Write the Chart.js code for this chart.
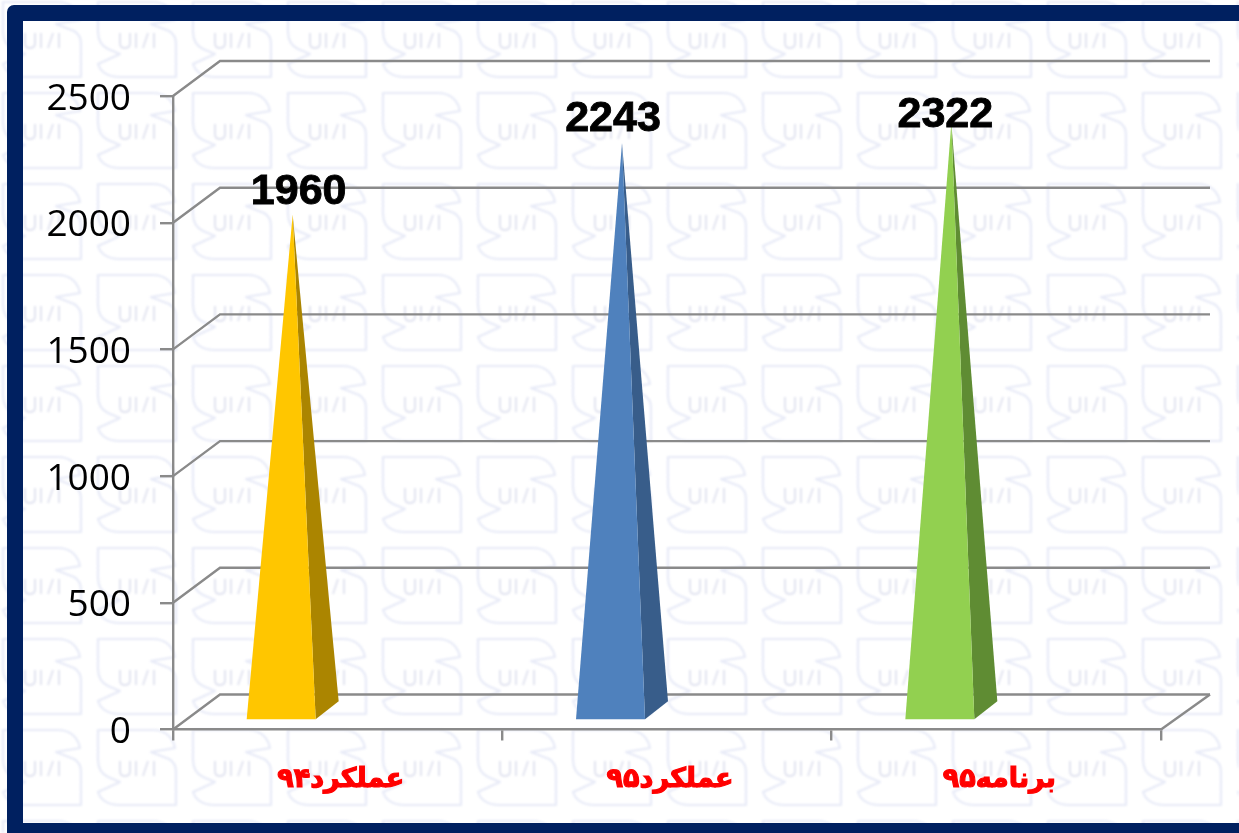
<!DOCTYPE html>
<html>
<head>
<meta charset="utf-8">
<title>chart</title>
<script src="https://cdn.jsdelivr.net/npm/chart.js@4/dist/chart.umd.min.js"></script>
<style>
html, body { margin: 0; padding: 0; background: #fff; overflow: hidden; }
#page { position: relative; width: 1239px; height: 833px; overflow: hidden; }
#paper { position: absolute; left: 0; top: 0; width: 1239px; height: 833px; filter: blur(0.8px); }
#frame {
	position: absolute; left: 7px; top: 5px; width: 1260px; height: 834px;
	border: 16px solid #002060; border-top-left-radius: 7px; box-sizing: border-box;
}
#mycanvas { position: absolute; left: 0; top: 0; }
</style>
</head>
<body>
<div id="page">
	<div id="paper"></div>
	<div id="frame"></div>
	<canvas id="mycanvas" width="1239" height="833"></canvas>
</div>
<script>
var categories = ['عملکرد۹۴', 'عملکرد۹۵', 'برنامه۹۵'];
var values = [1960, 2243, 2322];
var tickValues = [0, 500, 1000, 1500, 2000, 2500];

var frontColors = ['#FFC600', '#4F81BD', '#92D050'];
var sideColors = ['#AB8500', '#385D8A', '#5F8C33'];
// the value labels were placed by hand in the original, offsets from the tip
var labelShiftX = [6, -9, -6];
var labelShiftY = [-11, -12, 4];

var gridColor = '#8A8A8A';
var depthX = 47, depthY = 35;

// faint logo tiled behind the chart
var tile = '<svg xmlns="http://www.w3.org/2000/svg" width="95" height="91">' +
	'<g transform="translate(3,2)" fill="none" stroke-linejoin="round">' +
	'<path stroke="#E7EAF7" stroke-width="2.2" d="M0 0H55C68 0 75 8 77 18L53 22L71 29Q78 33 78 42V75H20Q4 74 0 62L22 52L10 47Q0 42 0 30Z"/>' +
	'<path stroke="#E2E4F0" stroke-width="2" d="M22 31V41Q22 46 27 46Q32 46 32 41V31M38 31V46M45 46L50 31M56 31V46"/>' +
	'</g></svg>';
document.getElementById('paper').style.background =
	'url("data:image/svg+xml,' + encodeURIComponent(tile) + '")';

// back wall lines and the slanted lines joining them to the front ticks
var wallPlugin = {
	id: 'wall',
	beforeDatasetsDraw: function(chart) {
		var ctx = chart.ctx, y = chart.scales.y, area = chart.chartArea;
		ctx.save();
		ctx.strokeStyle = gridColor;
		ctx.lineWidth = 2.4;
		y.ticks.forEach(function(t) {
			var py = y.getPixelForValue(t.value);
			ctx.beginPath();
			ctx.moveTo(area.left, py);
			ctx.lineTo(area.left + depthX, py - depthY);
			ctx.lineTo(area.right + depthX + 2, py - depthY);
			ctx.stroke();
		});
		var py0 = y.getPixelForValue(0);
		ctx.beginPath();
		ctx.moveTo(area.right, py0);
		ctx.lineTo(area.right + depthX + 2, py0 - depthY);
		ctx.stroke();
		ctx.restore();
	}
};

// the real bars stay transparent, each one is painted as a 3d pyramid
var pyramidPlugin = {
	id: 'pyramid',
	afterDatasetsDraw: function(chart) {
		var ctx = chart.ctx;
		chart.getDatasetMeta(0).data.forEach(function(bar, i) {
			var left = bar.x - 91, right = left + 69;
			var baseY = bar.base - 9;
			var tipX = left + 46, tipY = bar.y - 18;

			ctx.fillStyle = sideColors[i];
			ctx.beginPath();
			ctx.moveTo(right, baseY);
			ctx.lineTo(right + 23, baseY - 18);
			ctx.lineTo(tipX, tipY);
			ctx.closePath();
			ctx.fill();

			ctx.fillStyle = frontColors[i];
			ctx.beginPath();
			ctx.moveTo(left, baseY);
			ctx.lineTo(right, baseY);
			ctx.lineTo(tipX, tipY);
			ctx.closePath();
			ctx.fill();

			ctx.save();
			ctx.fillStyle = '#000';
			ctx.strokeStyle = '#000';
			ctx.lineWidth = 0.9;
			ctx.font = 'bold 43px "Liberation Sans"';
			ctx.textAlign = 'center';
			ctx.textBaseline = 'alphabetic';
			ctx.fillText(String(values[i]), tipX + labelShiftX[i], tipY + labelShiftY[i]);
			ctx.strokeText(String(values[i]), tipX + labelShiftX[i], tipY + labelShiftY[i]);
			ctx.restore();
		});
	}
};

var chartdata = {
	labels: categories,
	datasets: [
		{
			label: 'Total',
			data: values,
			backgroundColor: 'rgba(0,0,0,0)',
			borderWidth: 0
		}
	]
};

var barGraph = new Chart(document.getElementById('mycanvas'), {
	type: 'bar',
	data: chartdata,
	plugins: [wallPlugin, pyramidPlugin],
	options: {
		responsive: false,
		animation: false,
		layout: { padding: { left: 33, top: 96, right: 78, bottom: 33.5 } },
		plugins: { legend: { display: false }, tooltip: { enabled: false } },
		scales: {
			x: {
				afterFit: function(scale) { scale.height = 70; },
				grid: { offset: true, drawOnChartArea: false, color: gridColor, lineWidth: 2.4, tickLength: 11 },
				border: { color: gridColor, width: 2.4 },
				ticks: {
					color: '#FF0000',
					padding: 23,
					labelOffset: 3,
					maxRotation: 0,
					textStrokeColor: '#FF0000',
					textStrokeWidth: 1.2,
					font: { family: '"DejaVu Sans"', size: 27, weight: 'bold' }
				}
			},
			y: {
				min: 0,
				max: 2500,
				afterFit: function(scale) { scale.width = 140; },
				afterBuildTicks: function(scale) {
					scale.ticks = tickValues.map(function(v) { return { value: v }; });
				},
				grid: { drawOnChartArea: false, color: gridColor, lineWidth: 2.4, tickLength: 13 },
				border: { color: gridColor, width: 2.4 },
				ticks: {
					color: '#000',
					padding: 29,
					// empty first line plus a tiny line height nudges the digits down 3px
					callback: function(v) { return ['', String(v)]; },
					font: { family: '"Open Sans"', size: 37, lineHeight: 0.16 }
				}
			}
		}
	}
});
</script>
</body>
</html>
